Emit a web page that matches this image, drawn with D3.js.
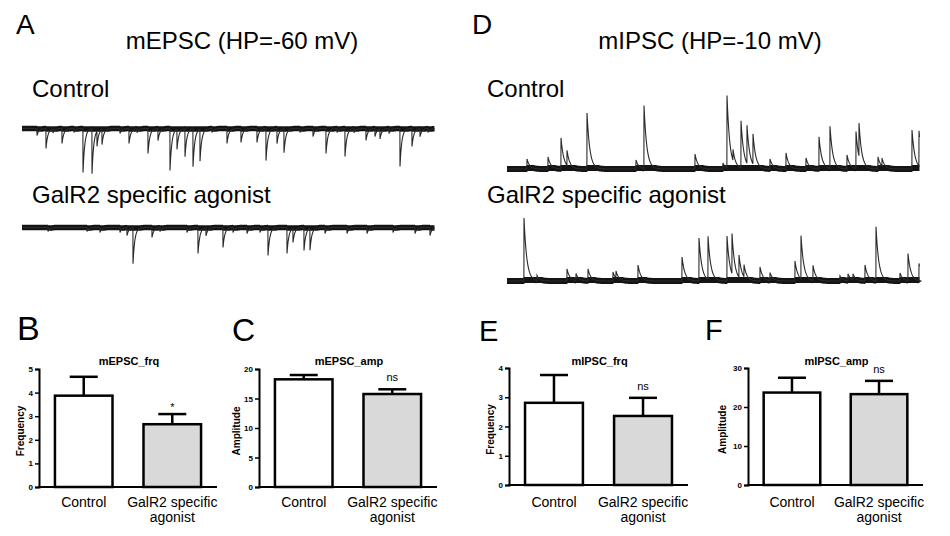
<!DOCTYPE html>
<html>
<head>
<meta charset="utf-8">
<script src="https://cdn.jsdelivr.net/npm/d3@7"></script>
<style>
  html, body { margin: 0; padding: 0; background: #fff; }
  svg { display: block; }
</style>
</head>
<body>
<svg id="chart" width="950" height="536"></svg>
<script>
// ---------------- DATA ----------------
const categories = ["Control", "GalR2 specific agonist"];
const categoryLines = [["Control"], ["GalR2 specific", "agonist"]];

const epscFrqMean = [3.87, 2.66];
const epscFrqSem  = [0.80, 0.43];
const epscAmpMean = [18.25, 15.76];
const epscAmpSem  = [0.73, 0.80];
const ipscFrqMean = [2.81, 2.36];
const ipscFrqSem  = [0.95, 0.62];
const ipscAmpMean = [23.7, 23.3];
const ipscAmpSem  = [3.8, 3.4];

const epscFrqTicks = [0, 1, 2, 3, 4, 5];
const epscAmpTicks = [0, 5, 10, 15, 20];
const ipscFrqTicks = [0, 1, 2, 3, 4];
const ipscAmpTicks = [0, 10, 20, 30];

const epscFrqSig = ["", "*"];
const epscAmpSig = ["", "ns"];
const ipscFrqSig = ["", "ns"];
const ipscAmpSig = ["", "ns"];

// trace duration (s)
const traceDuration = 41.3;
// events: [time (s), amplitude (pA)]
const epscControlEvents = [
  [1.5, 7], [2.4, 20], [4.0, 15], [6.1, 44], [7.0, 45], [7.5, 15], [8.0, 15],
  [9.8, 5], [10.7, 15], [12.6, 25], [13.6, 12], [14.8, 42], [15.5, 20],
  [16.3, 28], [17.1, 38], [17.8, 32], [20.5, 15], [21.9, 14], [23.5, 14],
  [24.4, 32], [25.5, 15], [26.2, 24], [29.1, 8], [30.4, 25], [32.3, 28],
  [34.4, 12], [35.3, 8], [35.8, 10], [37.8, 38], [39.0, 18], [39.8, 8],
  [3.1, 4], [5.2, 4], [11.5, 4], [19.0, 4], [27.8, 4], [31.5, 4], [33.2, 4], [36.7, 5], [40.6, 4]
];
const epscAgonistEvents = [
  [2.6, 4], [6.5, 4], [7.8, 5], [9.8, 5], [10.5, 8], [11.1, 36], [13.0, 10],
  [13.8, 4], [16.5, 5], [17.6, 26], [18.4, 8], [20.1, 20], [21.1, 5], [22.5, 6],
  [23.8, 5], [24.6, 28], [26.5, 26], [27.1, 14], [28.2, 23], [28.8, 22],
  [30.3, 6], [32.5, 6], [34.5, 6], [37.1, 5], [39.3, 6], [40.8, 8]
];
const ipscControlEvents = [
  [2.0, 10], [4.1, 12], [5.4, 31], [6.0, 15], [8.0, 56], [12.9, 9], [13.7, 63],
  [18.8, 15], [21.6, 6], [22.0, 72], [22.6, 11], [23.4, 47], [24.0, 38],
  [24.6, 30], [26.3, 10], [27.9, 16], [29.9, 11], [31.2, 32], [32.3, 42],
  [34.0, 14], [34.9, 37], [35.2, 33], [37.1, 12], [37.5, 8], [40.5, 39], [41.2, 35]
];
const ipscAgonistEvents = [
  [1.7, 63], [3.0, 5], [6.0, 12], [6.9, 7], [8.1, 12], [10.6, 9], [10.9, 7],
  [13.1, 16], [17.5, 24], [19.2, 43], [20.1, 43], [22.0, 45], [22.5, 40],
  [23.2, 22], [23.7, 12], [25.3, 14], [26.3, 8], [28.8, 20], [29.4, 43],
  [30.6, 15], [33.3, 5], [34.1, 7], [34.6, 6], [35.8, 16], [36.9, 54],
  [39.3, 8], [40.1, 27], [41.2, 17]
];

// ---------------- DRAWING ----------------
const FONT = "'Liberation Sans', Arial, Helvetica, sans-serif";
const svg = d3.select("#chart");

function text(x, y, s, size, opts = {}) {
  return svg.append("text")
    .attr("x", x).attr("y", y)
    .attr("font-family", FONT)
    .attr("font-size", size)
    .attr("font-weight", opts.weight || "normal")
    .attr("text-anchor", opts.anchor || "start")
    .attr("fill", "#000")
    .text(s);
}

// Panel letters and headings
text(16, 34, "A", 28);
text(472, 34, "D", 28);
text(242, 49, "mEPSC (HP=-60 mV)", 24, { anchor: "middle" });
text(710, 49, "mIPSC (HP=-10 mV)", 24, { anchor: "middle" });
text(32, 97, "Control", 24);
text(487, 97, "Control", 24);
text(32, 203, "GalR2 specific agonist", 24);
text(487, 203, "GalR2 specific agonist", 24);

// Traces
function drawTrace(events, cfg) {
  const xs = d3.scaleLinear().domain([0, traceDuration]).range([cfg.x0, cfg.x1]);
  const ys = d3.scaleLinear().domain([-100, 100]).range([cfg.yBase + 100, cfg.yBase - 100]);
  let times = d3.range(0, traceDuration, 0.05);
  events.forEach(e => { times.push(e[0] - 0.01, e[0]); });
  times = times.filter(t => t >= 0 && t <= traceDuration).sort((a, b) => a - b);
  const pts = times.map(t => {
    let v = 0;
    events.forEach(([t0, a]) => {
      if (t >= t0) v += a * Math.exp(-(t - t0) / cfg.tau);
    });
    return [t, cfg.sign * v];
  });
  const line = d3.line().x(d => xs(d[0])).y(d => ys(d[1]));
  // noise band (thick baseline)
  const band = pts.map(([t, v]) => [t, Math.max(-cfg.clamp, Math.min(cfg.clamp, v))]);
  svg.append("path").attr("d", line(band))
    .attr("fill", "none").attr("stroke", "#141414")
    .attr("stroke-width", cfg.bandWidth).attr("stroke-linejoin", "bevel");
  svg.append("path").attr("d", line(pts))
    .attr("fill", "none").attr("stroke", "#2a2a2a")
    .attr("stroke-width", 1.1).attr("stroke-linejoin", "miter");
}

drawTrace(epscControlEvents, { x0: 22, x1: 435, yBase: 128.5, sign: -1, tau: 0.18, clamp: 0.6, bandWidth: 5.5 });
drawTrace(epscAgonistEvents, { x0: 22, x1: 435, yBase: 227.5, sign: -1, tau: 0.18, clamp: 0.6, bandWidth: 5.5 });
drawTrace(ipscControlEvents, { x0: 507, x1: 920, yBase: 169, sign: 1, tau: 0.28, clamp: 1, bandWidth: 6 });
drawTrace(ipscAgonistEvents, { x0: 507, x1: 920, yBase: 281, sign: 1, tau: 0.28, clamp: 1, bandWidth: 6 });

// Bar panels
function barPanel(cfg) {
  const g = svg.append("g");
  const x = d3.scaleBand().domain(categories).range([cfg.axisX, cfg.xEnd])
    .paddingInner(0.35).paddingOuter(0.18);
  const y = d3.scaleLinear().domain([0, cfg.ticks[cfg.ticks.length - 1]]).range([cfg.y0, cfg.yTop]);

  // bars
  g.selectAll("rect.bar").data(categories).join("rect")
    .attr("x", d => x(d)).attr("width", x.bandwidth())
    .attr("y", (d, i) => y(cfg.mean[i]))
    .attr("height", (d, i) => cfg.y0 - y(cfg.mean[i]))
    .attr("fill", (d, i) => i === 0 ? "#ffffff" : "#d9d9d9")
    .attr("stroke", "#000").attr("stroke-width", 2.5);

  // error bars (upward only)
  categories.forEach((c, i) => {
    const cx = x(c) + x.bandwidth() / 2;
    const yt = y(cfg.mean[i] + cfg.sem[i]);
    g.append("line").attr("x1", cx).attr("x2", cx)
      .attr("y1", y(cfg.mean[i])).attr("y2", yt)
      .attr("stroke", "#000").attr("stroke-width", 2.5);
    g.append("line").attr("x1", cx - 14).attr("x2", cx + 14)
      .attr("y1", yt).attr("y2", yt)
      .attr("stroke", "#000").attr("stroke-width", 2.5);
    if (cfg.sig[i]) {
      g.append("text").attr("x", cx).attr("y", yt - (cfg.sig[i] === "*" ? 3 : 8))
        .attr("text-anchor", "middle").attr("font-family", FONT)
        .attr("font-size", 11)
        .text(cfg.sig[i]);
    }
    categoryLines[i].forEach((s, k) => {
      g.append("text").attr("x", cx).attr("y", 507 + k * 14.5)
        .attr("text-anchor", "middle").attr("font-family", FONT)
        .attr("font-size", 14).text(s);
    });
  });

  // y axis
  const ax = g.append("g").attr("transform", `translate(${cfg.axisX},0)`)
    .call(d3.axisLeft(y).tickValues(cfg.ticks).tickFormat(d3.format("d"))
      .tickSizeOuter(0).tickSize(4).tickPadding(2));
  ax.select(".domain").attr("stroke-width", 2).attr("stroke", "#000");
  ax.selectAll(".tick line").attr("stroke-width", 1.5).attr("stroke", "#000");
  ax.selectAll(".tick text").attr("font-family", FONT).attr("font-size", 8)
    .attr("font-weight", "bold").attr("fill", "#000");

  // x axis line
  g.append("line").attr("x1", cfg.axisX - 1).attr("x2", cfg.xEnd)
    .attr("y1", cfg.y0).attr("y2", cfg.y0)
    .attr("stroke", "#000").attr("stroke-width", 2);

  // y label
  g.append("text")
    .attr("transform", `translate(${cfg.labelX},${(cfg.y0 + cfg.yTop) / 2 + 3}) rotate(-90)`)
    .attr("text-anchor", "middle").attr("font-family", FONT)
    .attr("font-size", 10).attr("font-weight", "bold").text(cfg.ylabel);

  // title
  g.append("text").attr("x", (cfg.axisX + cfg.xEnd) / 2 + 1).attr("y", 365)
    .attr("text-anchor", "middle").attr("font-family", FONT)
    .attr("font-size", 11).attr("font-weight", "bold").text(cfg.title);

  // panel letter
  text(cfg.letterX, cfg.letterY, cfg.letter, cfg.letterSize);
}

barPanel({ letter: "B", letterX: 17, letterY: 340, letterSize: 34, title: "mEPSC_frq", ylabel: "Frequency",
  axisX: 39, xEnd: 217, y0: 487, yTop: 369, ticks: epscFrqTicks, mean: epscFrqMean, sem: epscFrqSem,
  sig: epscFrqSig, labelX: 24 });
barPanel({ letter: "C", letterX: 232, letterY: 341, letterSize: 32, title: "mEPSC_amp", ylabel: "Amplitude",
  axisX: 259, xEnd: 437, y0: 487, yTop: 369, ticks: epscAmpTicks, mean: epscAmpMean, sem: epscAmpSem,
  sig: epscAmpSig, labelX: 240 });
barPanel({ letter: "E", letterX: 479, letterY: 341, letterSize: 29, title: "mIPSC_frq", ylabel: "Frequency",
  axisX: 509, xEnd: 688, y0: 485, yTop: 368, ticks: ipscFrqTicks, mean: ipscFrqMean, sem: ipscFrqSem,
  sig: ipscFrqSig, labelX: 494 });
barPanel({ letter: "F", letterX: 705, letterY: 340, letterSize: 29, title: "mIPSC_amp", ylabel: "Amplitude",
  axisX: 748, xEnd: 923, y0: 485, yTop: 368, ticks: ipscAmpTicks, mean: ipscAmpMean, sem: ipscAmpSem,
  sig: ipscAmpSig, labelX: 726 });
</script>
</body>
</html>
